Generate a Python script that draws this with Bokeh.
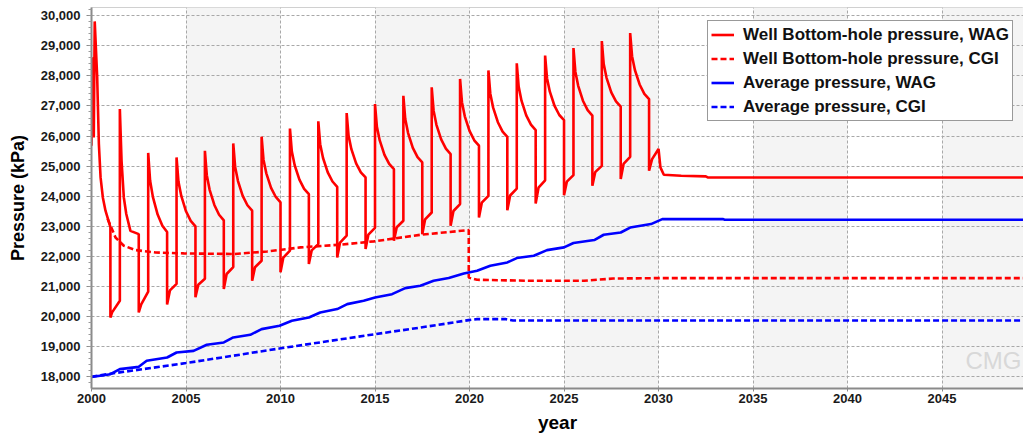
from bokeh.plotting import figure
from bokeh.models import (Range1d, SingleIntervalTicker, NumeralTickFormatter,
                          BoxAnnotation, Legend, LegendItem, Label)
from bokeh.embed import file_html
from bokeh.resources import INLINE

# ---------------- data ----------------
# Well bottom-hole pressure, WAG (kPa)
wag_bhp_year = [
    2000.00, 2000.07, 2000.12, 2000.17, 2000.30, 2000.39, 2000.48, 2000.60, 2000.74, 2001.00, 2001.00, 2001.09, 2001.50,
    2001.50, 2001.59, 2001.71, 2001.84, 2002.06, 2002.50, 2002.50, 2002.63, 2003.00,
    2003.00, 2003.10, 2003.25, 2003.50, 2003.75, 2004.00, 2004.00, 2004.15, 2004.50,
    2004.50, 2004.60, 2004.75, 2005.00, 2005.25, 2005.50, 2005.50, 2005.65, 2006.00,
    2006.00, 2006.10, 2006.25, 2006.50, 2006.75, 2007.00, 2007.00, 2007.15, 2007.50,
    2007.50, 2007.60, 2007.75, 2008.00, 2008.25, 2008.50, 2008.50, 2008.65, 2009.00,
    2009.00, 2009.10, 2009.25, 2009.50, 2009.75, 2010.00, 2010.00, 2010.15, 2010.50,
    2010.50, 2010.60, 2010.75, 2011.00, 2011.25, 2011.50, 2011.50, 2011.65, 2012.00,
    2012.00, 2012.10, 2012.25, 2012.50, 2012.75, 2013.00, 2013.00, 2013.15, 2013.50,
    2013.50, 2013.60, 2013.75, 2014.00, 2014.25, 2014.50, 2014.50, 2014.65, 2015.00,
    2015.00, 2015.10, 2015.25, 2015.50, 2015.75, 2016.00, 2016.00, 2016.15, 2016.50,
    2016.50, 2016.60, 2016.75, 2017.00, 2017.25, 2017.50, 2017.50, 2017.65, 2018.00,
    2018.00, 2018.10, 2018.25, 2018.50, 2018.75, 2019.00, 2019.00, 2019.15, 2019.50,
    2019.50, 2019.60, 2019.75, 2020.00, 2020.25, 2020.50, 2020.50, 2020.65, 2021.00,
    2021.00, 2021.10, 2021.25, 2021.50, 2021.75, 2022.00, 2022.00, 2022.15, 2022.50,
    2022.50, 2022.60, 2022.75, 2023.00, 2023.25, 2023.50, 2023.50, 2023.65, 2024.00,
    2024.00, 2024.10, 2024.25, 2024.50, 2024.75, 2025.00, 2025.00, 2025.15, 2025.50,
    2025.50, 2025.60, 2025.75, 2026.00, 2026.25, 2026.50, 2026.50, 2026.65, 2027.00,
    2027.00, 2027.10, 2027.25, 2027.50, 2027.75, 2028.00, 2028.00, 2028.15, 2028.50,
    2028.50, 2028.60, 2028.75, 2029.00, 2029.25, 2029.50, 2029.50, 2029.66, 2030.00,
    2030.10, 2030.28, 2031.20, 2032.50, 2032.60, 2049.40,
]
wag_bhp_kpa = [
    25680, 28620, 25950, 29810, 27970, 25735, 24625, 23960, 23520, 22970, 19970, 20140, 20525,
    26900, 25180, 23960, 23410, 22850, 22740, 20140, 20410, 20830,
    25440, 24520, 23970, 23390, 23020, 22810, 20400, 20870, 21090,
    25290, 24490, 24010, 23500, 23180, 23000, 20640, 21060, 21255,
    25510, 24700, 24215, 23710, 23385, 23200, 20920, 21415, 21645,
    25755, 24975, 24505, 24010, 23700, 23520, 21190, 21640, 21855,
    25980, 25215, 24760, 24280, 23975, 23800, 21470, 21960, 22190,
    26250, 25485, 25030, 24550, 24245, 24070, 21750, 22200, 22410,
    26490, 25730, 25270, 24795, 24490, 24315, 21965, 22460, 22690,
    26765, 26015, 25565, 25095, 24795, 24625, 22245, 22725, 22950,
    27065, 26305, 25855, 25375, 25075, 24900, 22520, 22970, 23185,
    27340, 26565, 26100, 25610, 25300, 25125, 22740, 23230, 23460,
    27620, 26845, 26375, 25890, 25580, 25400, 23020, 23510, 23740,
    27900, 27125, 26655, 26170, 25860, 25680, 23295, 23785, 24015,
    28180, 27410, 26945, 26460, 26150, 25975, 23535, 24025, 24255,
    28420, 27645, 27175, 26690, 26380, 26200, 23755, 24285, 24530,
    28675, 27925, 27475, 27000, 26700, 26530, 24030, 24485, 24700,
    28925, 28140, 27670, 27175, 26860, 26680, 24350, 24800, 25010,
    29160, 28395, 27935, 27455, 27150, 26975, 24570, 25075, 25310,
    29425, 28655, 28195, 27715, 27405, 27230, 24850, 25235, 25570,
    24960, 24715, 24680, 24660, 24625, 24625,
]

# Well bottom-hole pressure, CGI (kPa)
cgi_bhp_year = [2000.85, 2001.27, 2001.71, 2002.33, 2003.39, 2004.88, 2007.53, 2009.29,
                2011.06, 2013.17, 2014.94, 2017.41, 2019.96, 2019.96, 2020.40, 2023.23,
                2026.05, 2027.60, 2030.30, 2049.40]
cgi_bhp_kpa = [23250, 22630, 22355, 22210, 22130, 22100, 22080, 22165,
               22300, 22390, 22500, 22720, 22875, 21300, 21223, 21190,
               21190, 21265, 21280, 21280]

# Average pressure, WAG (kPa)
wag_avg_year = [2000.0, 2001.0, 2001.5, 2002.5, 2002.92, 2004.0, 2004.5, 2005.4, 2006.1,
                2007.0, 2007.5, 2008.4, 2009.0, 2009.95, 2010.6, 2011.5, 2012.1, 2013.0,
                2013.53, 2014.4, 2015.0, 2015.9, 2016.6, 2017.4, 2018.1, 2018.9, 2019.7,
                2020.4, 2021.1, 2022.0, 2022.5, 2023.4, 2024.1, 2025.0, 2025.5, 2026.6,
                2027.1, 2028.0, 2028.5, 2029.6, 2030.2, 2033.4, 2033.5, 2049.4]
wag_avg_kpa = [17990, 18085, 18255, 18330, 18530, 18640, 18807, 18860, 19063,
               19140, 19306, 19395, 19584, 19694, 19860, 19970, 20136, 20250,
               20415, 20525, 20635, 20745, 20945, 21025, 21190, 21280, 21435,
               21525, 21690, 21800, 21945, 22020, 22210, 22300, 22445, 22545,
               22720, 22795, 22960, 23075, 23240, 23240, 23220, 23220]

# Average pressure, CGI (kPa)
cgi_avg_year = [2000.0, 2001.0, 2005.0, 2009.95, 2012.65, 2015.0, 2017.4, 2019.96,
                2020.4, 2021.9, 2022.3, 2049.4]
cgi_avg_kpa = [18000, 18100, 18455, 18940, 19195, 19415, 19635, 19883,
               19917, 19917, 19870, 19870]

series_labels = ["Well Bottom-hole pressure, WAG", "Well Bottom-hole pressure, CGI",
                 "Average pressure, WAG", "Average pressure, CGI"]

# shaded 5-year background bands (start years)
band_starts = [2005, 2015, 2025, 2035, 2045]
band_width_years = 5

x_title = "year"
y_title = "Pressure (kPa)"

# ---------------- figure ----------------
FONT = "Liberation Sans"
p = figure(width=1023, height=435, output_backend="svg", toolbar_location=None,
           x_range=Range1d(2000, 2049.31), y_range=Range1d(17610, 30273),
           min_border_left=91, min_border_right=0, min_border_top=7,
           min_border_bottom=40)
p.background_fill_color = "white"
p.border_fill_color = "white"
p.outline_line_color = "#d0d0d0"
p.outline_line_width = 1

for s in band_starts:
    p.add_layout(BoxAnnotation(left=s, right=s + band_width_years,
                               fill_color="#f4f4f4", fill_alpha=1.0,
                               line_alpha=0, level="image"))

# axes
p.xaxis.ticker = SingleIntervalTicker(interval=5, num_minor_ticks=5)
p.yaxis.ticker = SingleIntervalTicker(interval=1000, num_minor_ticks=5)
p.yaxis.formatter = NumeralTickFormatter(format="0,0")

for ax in (p.xaxis[0], p.yaxis[0]):
    ax.axis_line_color = "#8a8a8a"
    ax.axis_line_width = 2
    ax.major_tick_line_color = "#8a8a8a"
    ax.minor_tick_line_color = "#9a9a9a"
    ax.major_label_text_font = FONT
    ax.major_label_text_font_style = "bold"
    ax.major_label_text_font_size = "13px"
    ax.major_label_text_color = "#1a1a1a"
    ax.axis_label_text_font = FONT
    ax.axis_label_text_font_style = "bold"
    ax.axis_label_text_color = "#000000"

p.xaxis.major_tick_out = 3
p.xaxis.major_tick_in = 0
p.xaxis.minor_tick_out = 0
p.xaxis.minor_tick_in = 0
p.xaxis.major_label_standoff = 2
p.xaxis.axis_label = x_title
p.xaxis.axis_label_text_font_size = "19px"
p.xaxis.axis_label_standoff = 6

p.yaxis.major_tick_out = 5
p.yaxis.major_tick_in = 0
p.yaxis.minor_tick_out = 3
p.yaxis.minor_tick_in = 0
p.yaxis.major_label_standoff = 6
p.yaxis.axis_label = y_title
p.yaxis.axis_label_text_font_size = "18px"
p.yaxis.axis_label_standoff = 10

# grid
for g in (p.xgrid[0], p.ygrid[0]):
    g.grid_line_color = "#a8a8a8"
    g.grid_line_dash = "3 2"
    g.grid_line_width = 1
p.xgrid.ticker = SingleIntervalTicker(interval=5)
p.ygrid.ticker = SingleIntervalTicker(interval=1000)

# lines
RED = "#ff0000"
BLUE = "#0000ff"
r4 = p.line(cgi_avg_year, cgi_avg_kpa, line_color=BLUE, line_width=2.6, line_dash="6 3")
r3 = p.line(wag_avg_year, wag_avg_kpa, line_color=BLUE, line_width=2.6)
r2 = p.line(cgi_bhp_year, cgi_bhp_kpa, line_color=RED, line_width=2.6, line_dash="6 3")
r1 = p.line(wag_bhp_year, wag_bhp_kpa, line_color=RED, line_width=2.6)

legend = Legend(items=[LegendItem(label=series_labels[0], renderers=[r1]),
                       LegendItem(label=series_labels[1], renderers=[r2]),
                       LegendItem(label=series_labels[2], renderers=[r3]),
                       LegendItem(label=series_labels[3], renderers=[r4])],
                location=(616, 267))
legend.label_text_font = FONT
legend.label_text_font_style = "bold"
legend.label_text_font_size = "17px"
legend.label_text_color = "#111111"
legend.label_height = 21
legend.glyph_height = 21
legend.glyph_width = 23
legend.label_standoff = 9
legend.spacing = 3
legend.padding = 3
legend.margin = 0
legend.border_line_color = "#333333"
legend.border_line_width = 1.5
legend.background_fill_color = "white"
legend.background_fill_alpha = 1.0
p.add_layout(legend)

# watermark
p.add_layout(Label(x=874, y=15, x_units="screen", y_units="screen", text="CMG",
                   text_font=FONT, text_font_size="24px", text_color="#d8d8d8"))

open("out.html", "w").write(file_html(p, INLINE))
